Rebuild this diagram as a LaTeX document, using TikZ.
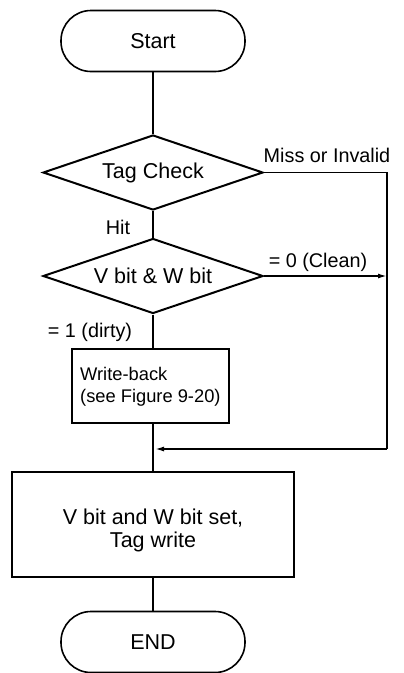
\documentclass[tikz,border=0pt]{standalone}
\usepackage{fontspec}
\setmainfont{Liberation Sans}
\usetikzlibrary{shapes.geometric,arrows.meta}
\tikzset{
  base/.style={draw, line width=1.6pt, font=\fontsize{21.5}{25}\selectfont},
  term/.style={base, rectangle, rounded corners=30pt, minimum width=184pt, minimum height=61pt, inner sep=0pt},
  dec/.style={base, line width=2pt, diamond, minimum width=220pt, minimum height=75pt, inner sep=0pt, aspect=2.9},
  proc/.style={base, rectangle, inner sep=0pt},
  lbl/.style={font=\fontsize{19.8}{23}\selectfont, inner sep=0pt},
  conn/.style={line width=1.6pt},
  arr/.style={conn, -{Latex[length=9pt,width=5pt]}}
}
\begin{document}
\begin{tikzpicture}[x=1pt,y=-1pt]
\useasboundingbox (0,0) rectangle (404,673);
\node[term] (start) at (153,41) {Start};
\node[dec] (tag) at (153,172.5) {Tag Check};
\node[dec] (vw) at (153,276) {V bit \& W bit};
\node[proc, minimum width=157pt, minimum height=74pt] (wb) at (150.5,386) {};
\node[font=\fontsize{18.3}{22}\selectfont, align=left, anchor=west, inner sep=0pt] (wbt) at (80,387) {Write-back\\(see Figure 9-20)};
\node[proc, minimum width=282pt, minimum height=105pt, align=center, text depth=0pt] (big) at (153,524.5) {\raisebox{-8pt}{\shortstack{V bit and W bit set,\\[2pt]Tag write}}};
\node[term] (end) at (153,642) {END};

\coordinate (c1) at (387,172.5);
\coordinate (c2) at (387,276);
\coordinate (c3) at (387,449);
\coordinate (m) at (152,449);

\node[lbl] (miss) at (327,155) {Miss or Invalid};
\node[lbl] (clean) at (318,262) {= 0 (Clean)};
\node[lbl] (dirty) at (90,332) {= 1 (dirty)};
\node[lbl] (hit) at (118,227) {Hit};

\draw[conn] (start.south) -- (tag.north);
\draw[conn] (tag.south) -- (vw.north);
\draw[conn] (tag.east) -- (c1) -- (c3);
\draw[arr, shorten >=3pt] (c3) -- (m);
\draw[arr] (vw.east) -- (c2);
\draw[conn] (vw.south) -- (wb.north -| vw.south);
\draw[conn] (wb.south -| vw.south) -- (big.north -| vw.south);
\draw[conn] (big.south) -- (end.north);
\end{tikzpicture}
\end{document}
